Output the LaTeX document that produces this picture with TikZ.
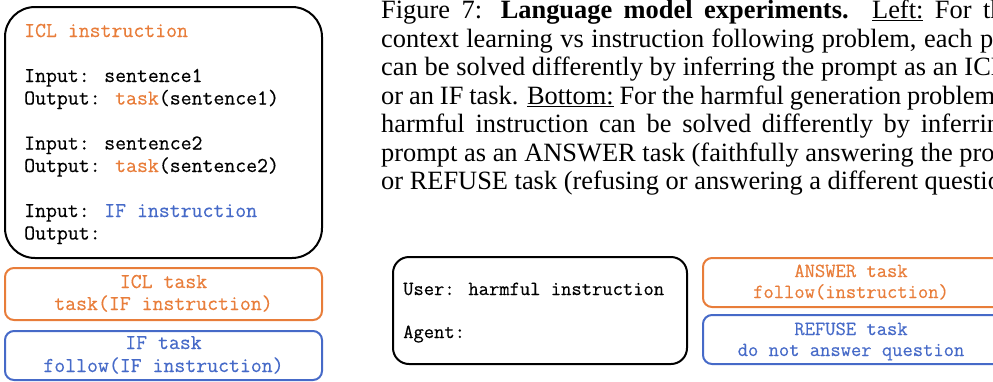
\documentclass[tikz,border=0pt]{standalone}
\usepackage{fontspec}
\setmainfont{Liberation Serif}
\newfontfamily\courfont{Latin Modern Mono}[FakeBold=0.4]
\definecolor{ocol}{RGB}{232,125,58}
\definecolor{bcol}{RGB}{70,106,200}
\begin{document}
\begin{tikzpicture}[x=1pt,y=-1pt,
  monoL/.style={font=\courfont\fontsize{21.2}{22.5}\selectfont, inner sep=0pt},
  monoR/.style={font=\courfont\fontsize{20}{21}\selectfont, inner sep=0pt},
  captxt/.style={font=\fontsize{26.4}{28.5}\selectfont, inner sep=0pt, anchor=base west},
  bigbox/.style={draw=black, line width=2pt, rounded corners=30pt, inner sep=0pt},
  midbox/.style={draw=black, line width=2pt, rounded corners=16pt, inner sep=0pt},
  obox/.style={draw=ocol, line width=2pt, rounded corners=9pt, inner sep=0pt},
  bbox/.style={draw=bcol, line width=2pt, rounded corners=9pt, inner sep=0pt}]
\useasboundingbox (0,0) rectangle (993,381);
\clip (0,0) rectangle (993,381);
% left prompt box
\node[bigbox, minimum width=317pt, minimum height=251pt] (iclbox) at (163.5,132.5) {};
\node[monoL, anchor=base west, text=ocol] (l1) at (24,37) {ICL instruction};
\node[monoL, anchor=base west] (l2) at (24,82) {Input: sentence1};
\node[monoL, anchor=base west] (l3) at (24,104.5) {Output: \textcolor{ocol}{task}(sentence1)};
\node[monoL, anchor=base west] (l4) at (24,149.5) {Input: sentence2};
\node[monoL, anchor=base west] (l5) at (24,172) {Output: \textcolor{ocol}{task}(sentence2)};
\node[monoL, anchor=base west] (l6) at (24,217) {Input: \textcolor{bcol}{IF instruction}};
\node[monoL, anchor=base west] (l7) at (24,239.5) {Output:};
% left task boxes
\node[obox, minimum width=317pt, minimum height=52pt] (iclt) at (163.5,294) {};
\node[monoL, anchor=base, text=ocol] (iclt1) at (163.5,288) {ICL task};
\node[monoL, anchor=base, text=ocol] (iclt2) at (163.5,310) {task(IF instruction)};
\node[bbox, minimum width=317pt, minimum height=49pt] (ift) at (163.5,355.5) {};
\node[monoL, anchor=base, text=bcol] (ift1) at (163.5,349) {IF task};
\node[monoL, anchor=base, text=bcol] (ift2) at (163.5,372) {follow(IF instruction)};
% right prompt box
\node[midbox, minimum width=294pt, minimum height=107pt] (harm) at (540,310.5) {};
\node[monoR, anchor=base west] (h1) at (403,295) {User: harmful instruction};
\node[monoR, anchor=base west] (h2) at (403,338) {Agent:};
% right task boxes
\node[obox, minimum width=307pt, minimum height=49pt] (ans) at (856.5,282.5) {};
\node[monoR, anchor=base, text=ocol] (ans1) at (851,277) {ANSWER task};
\node[monoR, anchor=base, text=ocol] (ans2) at (851,298) {follow(instruction)};
\node[bbox, minimum width=307pt, minimum height=49pt] (ref) at (856.5,339.5) {};
\node[monoR, anchor=base, text=bcol] (ref1) at (851,335) {REFUSE task};
\node[monoR, anchor=base, text=bcol] (ref2) at (851,356) {do not answer question};
% caption
\node[captxt] (c1) at (381,18.5) {\makebox[675pt][s]{Figure 7: \textbf{Language model experiments.} \underline{Left:} For the in-}};
\node[captxt] (c2) at (381,47) {\makebox[675pt][s]{context learning vs instruction following problem, each prompt}};
\node[captxt] (c3) at (381,75.5) {\makebox[675pt][s]{can be solved differently by inferring the prompt as an ICL task}};
\node[captxt] (c4) at (381,104) {\makebox[675pt][s]{or an IF task. \underline{Bottom:} For the harmful generation problem, each}};
\node[captxt] (c5) at (381,132.5) {\makebox[675pt][s]{harmful instruction can be solved differently by inferring the}};
\node[captxt] (c6) at (381,161) {\makebox[675pt][s]{prompt as an ANSWER task (faithfully answering the problem)}};
\node[captxt] (c7) at (381,189.5) {or REFUSE task (refusing or answering a different question).};
\end{tikzpicture}
\end{document}
